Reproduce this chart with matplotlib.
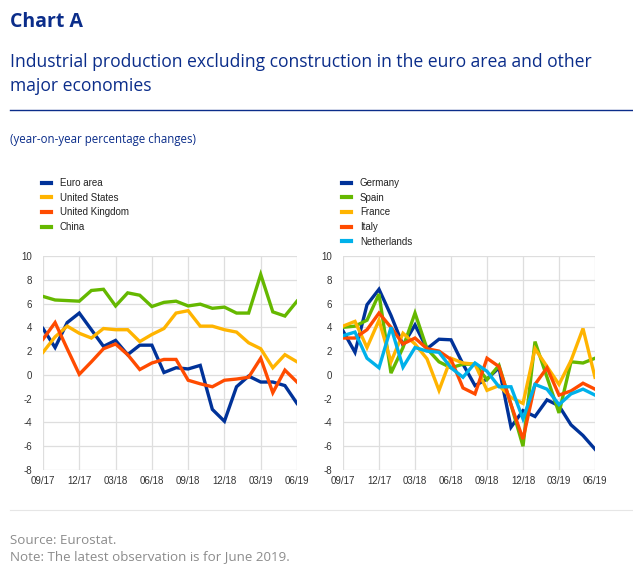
import matplotlib
matplotlib.use("Agg")
import matplotlib.pyplot as plt
import numpy as np

plt.rcParams["axes.unicode_minus"] = False

months = ["09/17", "10/17", "11/17", "12/17", "01/18", "02/18", "03/18", "04/18",
          "05/18", "06/18", "07/18", "08/18", "09/18", "10/18", "11/18", "12/18",
          "01/19", "02/19", "03/19", "04/19", "05/19", "06/19"]
tick_labels = ["09/17", "12/17", "03/18", "06/18", "09/18", "12/18", "03/19", "06/19"]

euro_area = [3.9, 2.3, 4.4, 5.2, 3.8, 2.4, 2.9, 1.7, 2.5, 2.5, 0.2, 0.6,
             0.5, 0.8, -2.9, -3.9, -1.0, -0.1, -0.6, -0.6, -0.9, -2.4]
united_states = [1.9, 3.2, 4.1, 3.5, 3.1, 3.9, 3.8, 3.8, 2.8, 3.4, 3.9, 5.2,
                 5.4, 4.1, 4.1, 3.8, 3.6, 2.7, 2.2, 0.6, 1.7, 1.1]
united_kingdom = [3.0, 4.4, 2.2, 0.05, 1.1, 2.2, 2.6, 1.7, 0.45, 1.0, 1.3, 1.3,
                  -0.45, -0.75, -1.0, -0.45, -0.35, -0.2, 1.4, -1.5, 0.4, -0.6]
china = [6.6, 6.3, 6.25, 6.2, 7.1, 7.2, 5.8, 6.9, 6.7, 5.75, 6.1, 6.2,
         5.8, 5.95, 5.6, 5.7, 5.2, 5.2, 8.45, 5.3, 4.95, 6.2]

germany = [3.7, 1.9, 5.9, 7.2, 5.0, 2.5, 4.2, 2.2, 3.0, 2.95, 0.9, -0.9,
           -0.35, 0.6, -4.4, -3.0, -3.5, -2.1, -2.6, -4.2, -5.1, -6.25]
spain = [4.0, 4.1, 4.6, 6.8, 0.15, 2.3, 5.2, 2.2, 1.1, 0.6, 0.9, 0.9,
         -0.4, 0.8, -2.5, -6.0, 2.8, -0.2, -3.2, 1.1, 1.0, 1.4]
france = [4.1, 4.5, 2.3, 4.6, 1.1, 3.5, 2.6, 1.35, -1.3, 1.4, 1.0, 0.9,
          -1.3, -0.9, -1.9, -2.4, 2.2, 0.7, -0.8, 1.2, 3.9, -0.2]
italy = [3.1, 3.1, 3.8, 5.2, 4.0, 2.6, 3.1, 2.2, 2.0, 1.3, -1.1, -1.6,
         1.4, 0.7, -2.5, -5.4, -0.8, 0.6, -1.7, -1.35, -0.7, -1.2]
netherlands = [3.3, 3.6, 1.4, 0.6, 4.0, 0.65, 2.3, 2.0, 1.9, 0.6, -0.2, 1.0,
               0.3, -1.0, -1.0, -3.7, -0.8, -1.2, -2.5, -1.6, -1.2, -1.7]

DARK_BLUE = "#003299"
YELLOW = "#FFB400"
ORANGE = "#FF4B00"
GREEN = "#65B800"
LIGHT_BLUE = "#00B1EA"

left_series = [("Euro area", euro_area, DARK_BLUE),
               ("United States", united_states, YELLOW),
               ("United Kingdom", united_kingdom, ORANGE),
               ("China", china, GREEN)]
right_series = [("Germany", germany, DARK_BLUE),
                ("Spain", spain, GREEN),
                ("France", france, YELLOW),
                ("Italy", italy, ORANGE),
                ("Netherlands", netherlands, LIGHT_BLUE)]

W, H = 633, 573
fig = plt.figure(figsize=(W / 100, H / 100), dpi=100)

TITLE_FONT = ["Open Sans", "DejaVu Sans"]
AX_FONT = ["Liberation Sans", "DejaVu Sans"]

fig.text(10 / W, 1 - 22 / H, "Chart A", fontsize=14, fontweight="bold",
         color="#0b2d8a", family=TITLE_FONT, va="center", ha="left")
fig.text(10 / W, 1 - 74 / H,
         "Industrial production excluding construction in the euro area and other\nmajor economies",
         fontsize=12.65, color="#0b2d8a", family=TITLE_FONT, va="center", ha="left",
         linespacing=1.38)
fig.add_artist(plt.Line2D([10 / W, 1.0], [1 - 110 / H, 1 - 110 / H],
                          color="#0b2d8a", lw=1.0, transform=fig.transFigure))
fig.text(10 / W, 1 - 140 / H, "(year-on-year percentage changes)", fontsize=8.3,
         color="#0b2d8a", family=TITLE_FONT, va="center", ha="left")

fig.add_artist(plt.Line2D([10 / W, 1.0], [1 - 510 / H, 1 - 510 / H],
                          color="#e6e6e6", lw=0.8, transform=fig.transFigure))
fig.text(10 / W, 1 - 540 / H, "Source: Eurostat.", fontsize=9.6, color="#8c8c8c",
         family=TITLE_FONT, va="center", ha="left")
fig.text(10 / W, 1 - 557 / H, "Note: The latest observation is for June 2019.",
         fontsize=9.6, color="#8c8c8c", family=TITLE_FONT, va="center", ha="left")

bottom = 1 - 470 / H
height = (470 - 256) / H
ax1 = fig.add_axes([43 / W, bottom, (297 - 43) / W, height])
ax2 = fig.add_axes([343 / W, bottom, (595 - 343) / W, height])

x = np.arange(len(months))
tick_pos = [months.index(t) for t in tick_labels]

for ax, series in ((ax1, left_series), (ax2, right_series)):
    for name, vals, col in series:
        ax.plot(x, vals, color=col, lw=2.4, label=name, solid_joinstyle="miter")
    ax.set_xlim(0, len(months) - 1)
    ax.set_ylim(-8, 10)
    ax.set_yticks(np.arange(-8, 11, 2))
    ax.set_xticks(tick_pos)
    ax.set_xticklabels(tick_labels)
    ax.grid(True, color="#dedede", lw=0.9)
    ax.set_axisbelow(True)
    for s in ax.spines.values():
        s.set_visible(False)
    ax.tick_params(length=0, labelsize=7, colors="#333333", pad=4)
    for lab in ax.get_xticklabels() + ax.get_yticklabels():
        lab.set_family(AX_FONT)
    ax.tick_params(axis="y", pad=8)


def make_legend(series, x0, y0):
    handles = [plt.Line2D([], [], color=c, lw=3) for _, _, c in series]
    labels = [n for n, _, _ in series]
    leg = fig.legend(handles, labels, loc="upper left",
                     bbox_to_anchor=(x0 / W, 1 - y0 / H), frameon=False,
                     handlelength=0.9, handletextpad=0.95, labelspacing=0.48,
                     prop={"family": AX_FONT, "size": 7}, borderaxespad=0,
                     borderpad=0)
    for t in leg.get_texts():
        t.set_color("#222222")
    return leg


make_legend(left_series, 42, 178)
make_legend(right_series, 342, 178)

fig.savefig("out.png", dpi=100)
